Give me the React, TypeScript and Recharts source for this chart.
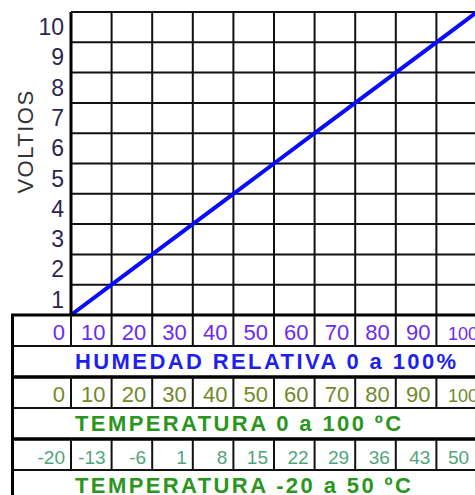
import { LineChart, Line, XAxis, YAxis, CartesianGrid } from 'recharts';

// humidity 0..100 % along the bottom, output voltage on the left
const humedad = [0, 10, 20, 30, 40, 50, 60, 70, 80, 90, 100];
const voltios = [0, 1, 2, 3, 4, 5, 6, 7, 8, 9, 10];
const voltTicks = [0, 1, 2, 3, 4, 5, 6, 7, 8, 9, 10];
const humLabels = ['0', '10', '20', '30', '40', '50', '60', '70', '80', '90', '100'];
const tempLabels = ['0', '10', '20', '30', '40', '50', '60', '70', '80', '90', '100'];
const tempNegLabels = ['-20', '-13', '-6', '1', '8', '15', '22', '29', '36', '43', '50'];

const data = humedad.map((h, i) => ({ h, v: voltios[i] }));

const FONT = '"Liberation Sans", Arial, sans-serif';
const ROW = 31;
const TABLE_LEFT = 12.5;

function makeCellTick(labels: string[], color: string, size: number, lastSize: number) {
    return function CellTick(props: any) {
        const { x, y, index } = props;
        const last = index === labels.length - 1;
        return (
            <g>
                {!last && <line x1={x} y1={y} x2={x} y2={y + ROW} stroke="#111" strokeWidth={2} />}
                <text
                    x={last ? x - 29 : x - 6}
                    y={y + 25}
                    textAnchor={last ? 'start' : 'end'}
                    fill={color}
                    fontSize={last ? lastSize : size}
                    fontFamily={FONT}
                >
                    {labels[index]}
                </text>
            </g>
        );
    };
}

function makeRowTitle(title: string, color: string) {
    return function RowTitle(props: any) {
        const { x, y, width } = props.viewBox;
        const right = x + width + 80;
        return (
            <g>
                <line x1={TABLE_LEFT - 1.5} y1={y} x2={right} y2={y} stroke="#000" strokeWidth={3} />
                <line x1={TABLE_LEFT} y1={y + ROW} x2={right} y2={y + ROW} stroke="#111" strokeWidth={2} />
                <line x1={TABLE_LEFT - 1.5} y1={y + 2 * ROW} x2={right} y2={y + 2 * ROW} stroke="#000" strokeWidth={3} />
                <line x1={TABLE_LEFT} y1={y} x2={TABLE_LEFT} y2={y + 2 * ROW} stroke="#000" strokeWidth={3} />
                <text
                    x={x + 4}
                    y={y + ROW + 23}
                    fill={color}
                    fontSize={22}
                    fontWeight="bold"
                    letterSpacing={2.4}
                    fontFamily={FONT}
                >
                    {title}
                </text>
            </g>
        );
    };
}

function VoltTick(props: any) {
    const { x, y, payload } = props;
    if (payload.value === 0) return <g />;
    return (
        <text x={x - 7} y={y + 23} textAnchor="end" fill="#2e2450" fontSize={23} fontFamily={FONT}>
            {payload.value}
        </text>
    );
}

function VoltLabel(props: any) {
    const { x, y, height } = props.viewBox;
    const cx = x + 33;
    const cy = y + height / 2 - 22;
    return (
        <text
            x={cx}
            y={cy}
            transform={`rotate(-90 ${cx} ${cy})`}
            textAnchor="middle"
            fill="#333"
            fontSize={22}
            letterSpacing={1.5}
            fontFamily={FONT}
        >
            VOLTIOS
        </text>
    );
}

export default function App() {
    return (
        <div style={{ position: 'absolute', left: 0, top: 0, width: 475, height: 495, overflow: 'hidden', background: '#fff' }}>
            <LineChart width={520} height={501} data={data} margin={{ top: 12, right: 43, left: 0, bottom: 0 }}>
                <CartesianGrid stroke="#111" strokeWidth={2} />
                <YAxis
                    type="number"
                    domain={[0, 10]}
                    ticks={voltTicks}
                    width={71}
                    axisLine={{ stroke: '#000', strokeWidth: 3 }}
                    tickLine={false}
                    tickSize={0}
                    tickMargin={0}
                    interval={0}
                    tick={VoltTick}
                    label={VoltLabel}
                />
                <XAxis
                    dataKey="h"
                    type="number"
                    domain={[0, 100]}
                    ticks={humedad}
                    height={2 * ROW}
                    axisLine={false}
                    tickLine={false}
                    tickSize={0}
                    tickMargin={0}
                    interval={0}
                    tick={makeCellTick(humLabels, '#6a2cf5', 22, 18)}
                    label={makeRowTitle('HUMEDAD RELATIVA 0 a 100%', '#1f1ff0')}
                />
                <XAxis
                    xAxisId="temp"
                    dataKey="h"
                    type="number"
                    domain={[0, 100]}
                    ticks={humedad}
                    height={2 * ROW}
                    axisLine={false}
                    tickLine={false}
                    tickSize={0}
                    tickMargin={0}
                    interval={0}
                    tick={makeCellTick(tempLabels, '#72892a', 22, 18)}
                    label={makeRowTitle('TEMPERATURA 0 a 100 ºC', '#2a961e')}
                />
                <XAxis
                    xAxisId="tempNeg"
                    dataKey="h"
                    type="number"
                    domain={[0, 100]}
                    ticks={humedad}
                    height={2 * ROW}
                    axisLine={false}
                    tickLine={false}
                    tickSize={0}
                    tickMargin={0}
                    interval={0}
                    tick={makeCellTick(tempNegLabels, '#4fa57a', 19, 19)}
                    label={makeRowTitle('TEMPERATURA -20 a 50 ºC', '#2a961e')}
                />
                <Line
                    type="linear"
                    dataKey="v"
                    stroke="#0a0aff"
                    strokeWidth={4}
                    dot={false}
                    isAnimationActive={false}
                />
            </LineChart>
        </div>
    );
}
